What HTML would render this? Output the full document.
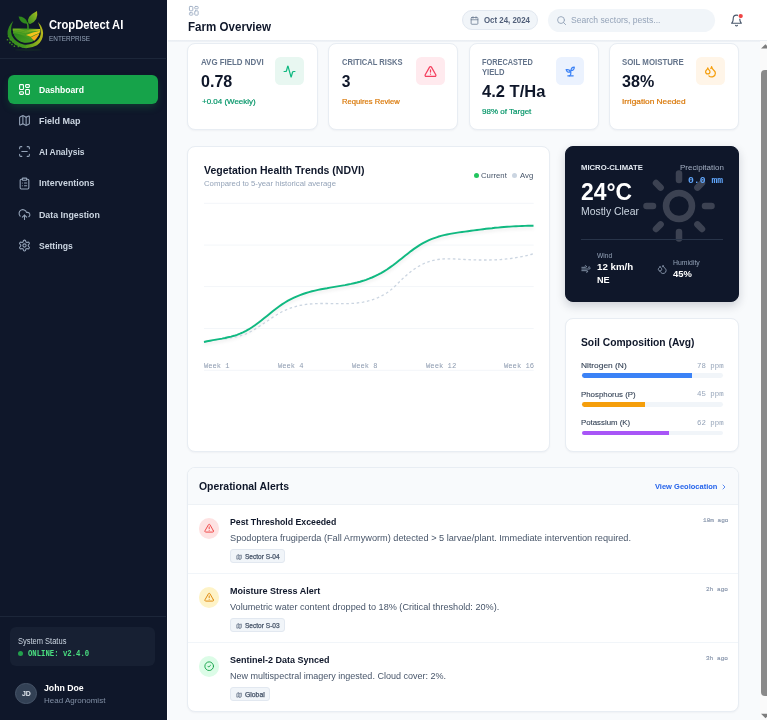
<!DOCTYPE html>
<html lang="en">
<head>
<meta charset="utf-8">
<title>CropDetect AI - Farm Overview</title>
<style>
*{box-sizing:border-box;margin:0;padding:0}
html,body{width:767px;height:720px;overflow:hidden;background:#f8fafc}
body{font-family:"Liberation Sans",sans-serif;color:#0f172a;position:relative;-webkit-font-smoothing:antialiased}
.mono{font-family:"Liberation Mono",monospace}
.abs{position:absolute}
.t{position:absolute;white-space:nowrap;line-height:1;transform-origin:0 50%}
.b{font-weight:700}
/* sidebar */
#side{position:absolute;left:0;top:0;width:166.500px;height:720px;background:#0f172a}
#side .div{position:absolute;left:0;width:165.500px;height:1px;background:#1c2639}
.nav{position:absolute;left:8px;width:150px;height:28.600px;border-radius:6px}
.nav.act{background:#16a34a;box-shadow:0 4px 8px -2px rgba(22,163,74,.3)}
.nav span{transform-origin:0 50%;position:absolute;left:31px;top:9.600px;font-size:9.500px;line-height:1;color:#cbd5e1;font-weight:700;white-space:nowrap}
.nav.act span{color:#fff}
.nav svg{position:absolute;left:10.300px;top:7.800px;width:13px;height:13px;fill:none;stroke:#94a3b8;stroke-width:2;stroke-linecap:round;stroke-linejoin:round}
.nav.act svg{stroke:#fff}
/* main */
#hdr{position:absolute;left:166.500px;top:0;width:600.500px;height:40px;background:#fff}
#hdr:after{content:"";position:absolute;left:1.700px;right:0;top:40px;height:2.200px;background:linear-gradient(#e9edf2,#f0f3f7)}
#strip{position:absolute;left:166.500px;top:0;width:1.800px;height:720px;background:#fff}
.card{position:absolute;background:#fff;border:1px solid #e8edf3;border-radius:8px;box-shadow:0 1px 2px rgba(15,23,42,.04)}
.pill{position:absolute;border-radius:12px;background:#f1f5f9}
svg.i{position:absolute;fill:none;stroke-linecap:round;stroke-linejoin:round}
.lab{font-size:8.400px;color:#64748b;letter-spacing:.1px}
.val{font-size:15.600px;color:#0f172a;letter-spacing:-.2px}
.sub{font-size:7.800px;-webkit-text-stroke:.2px currentColor}
.wk{font-size:8px;color:#8d9bb0}
.sl{font-size:7.800px;color:#334155;-webkit-text-stroke:.1px currentColor}
.sv{font-size:7.200px;color:#94a3b8}
.at{font-size:9.100px;color:#0f172a;letter-spacing:-.2px}
.ad{font-size:9.100px;color:#475569;letter-spacing:-.15px}
.ag{font-size:6.300px;color:#475569;font-weight:400;-webkit-text-stroke:.25px currentColor}
.am{font-size:5.900px;color:#8795ab;-webkit-text-stroke:.15px currentColor}
</style>
</head>
<body>
<!-- SIDEBAR -->
<div id="side">
  <svg class="abs" style="left:0;top:0" width="64" height="60" viewBox="0 0 64 60">
    <defs>
      <linearGradient id="lg1" x1="0" y1="1" x2="1" y2="0"><stop offset="0" stop-color="#378c1f"/><stop offset=".55" stop-color="#6fa821"/><stop offset="1" stop-color="#b4c01f"/></linearGradient>
      <linearGradient id="lg2" x1="0" y1="0" x2="1" y2="0"><stop offset="0" stop-color="#2f861c"/><stop offset=".45" stop-color="#43991e"/><stop offset=".8" stop-color="#86ad1c"/><stop offset="1" stop-color="#bdb91c"/></linearGradient>
      <linearGradient id="lg3" x1="0" y1="0" x2="1" y2="0"><stop offset="0" stop-color="#7fb122"/><stop offset=".5" stop-color="#5da421"/><stop offset="1" stop-color="#c9c61e"/></linearGradient>
      <linearGradient id="lg4" x1="0" y1="0" x2="1" y2="1"><stop offset="0" stop-color="#2a861d"/><stop offset="1" stop-color="#48a021"/></linearGradient>
      <clipPath id="bowl"><path d="M138 335Q350 328 590 345Q596 440 500 530Q420 575 335 568Q240 550 180 470Q142 410 138 335Z"/></clipPath>
    </defs>
    <g transform="translate(4 8) scale(.06112)">
      <ellipse cx="400" cy="685" rx="230" ry="22" fill="#1b3a24" opacity=".35"/>
      <path d="M152 210Q50 320 58 430Q62 490 100 520Q170 610 300 652Q430 672 540 610Q640 540 640 410Q636 310 556 228Q606 330 602 420Q590 520 480 578Q400 610 320 598Q190 570 128 450Q92 340 152 210Z" fill="url(#lg2)"/>
      
      <g clip-path="url(#bowl)">
        <rect x="120" y="320" width="490" height="280" fill="#46991f"/>
        <path d="M135 333Q260 335 345 368Q460 340 592 343L592 372Q450 372 345 412Q250 375 135 378Z" fill="url(#lg3)"/>
        <path d="M140 362Q250 362 340 392" stroke="#3f961f" stroke-width="9" fill="none"/>
        <path d="M135 395Q240 395 345 425L335 445Q240 420 140 420Z" fill="#4a9e21"/>
        <path d="M360 440Q470 395 595 372L595 402Q510 430 438 472Z" fill="#f3c21d"/>
        <path d="M440 482Q515 440 595 408L575 470Q545 520 500 540Z" fill="#f6a61b"/>
        <path d="M148 408Q300 420 482 545Q420 585 330 575Q215 545 148 408Z" fill="url(#lg4)"/>
      </g>
      <path d="M384 250Q398 300 393 350" stroke="#3b941f" stroke-width="24" fill="none" stroke-linecap="round"/>
      <path d="M398 242Q360 140 540 48Q570 200 430 262Q410 262 398 242Z" fill="url(#lg1)"/>
      <path d="M415 235Q455 150 520 90" stroke="#5a9f20" stroke-width="5" fill="none" opacity=".6"/>
      <path d="M378 258Q270 262 238 140Q345 140 385 238Z" fill="#2f871d"/>
      <g fill="#3f8f20"><rect x="45" y="508" width="24" height="24" rx="5"/><rect x="92" y="502" width="30" height="30" rx="6"/><rect x="82" y="553" width="28" height="26" rx="6"/><rect x="132" y="540" width="28" height="26" rx="6"/><rect x="118" y="586" width="24" height="22" rx="5"/><rect x="172" y="570" width="28" height="28" rx="6"/><rect x="158" y="614" width="24" height="24" rx="5"/><rect x="222" y="618" width="28" height="26" rx="6"/><rect x="298" y="630" width="26" height="22" rx="5"/><rect x="335" y="604" width="22" height="20" rx="5"/><rect x="62" y="455" width="18" height="20" rx="4"/></g>
    </g>
  </svg>
  <div class="t b" style="left:49.0px;top:19px;font-size:12.5px;color:#fff;letter-spacing:0.000px;transform:scaleX(0.896)">CropDetect AI</div>
  <div class="t" style="left:49.3px;top:35.6px;font-size:6.5px;color:#94a3b8;letter-spacing:0.000px;transform:scaleX(0.987)">ENTERPRISE</div>
  <div class="div" style="top:58px"></div>
  <div class="nav act" style="top:75px"><svg viewBox="0 0 24 24"><rect x="3" y="3" width="7" height="9" rx="1.5"/><rect x="14" y="3" width="7" height="5" rx="1.5"/><rect x="14" y="12" width="7" height="9" rx="1.5"/><rect x="3" y="16" width="7" height="5" rx="1.5"/></svg><span style="left:30.7px;letter-spacing:0.000px;transform:scaleX(0.905)">Dashboard</span></div>
  <div class="nav" style="top:106.300px"><svg viewBox="0 0 24 24"><path d="M14.1 5.6a2 2 0 0 0 1.8 0l3.7-1.8A1 1 0 0 1 21 4.6v12.8a1 1 0 0 1-.6.9l-4.5 2.3a2 2 0 0 1-1.8 0l-4.2-2.100a2 2 0 0 0-1.8 0l-3.700 1.800A1 1 0 0 1 3 19.400V6.600a1 1 0 0 1 .6-.9l4.500-2.300a2 2 0 0 1 1.800 0z"/><path d="M15 5.800v15"/><path d="M9 3.200v15"/></svg><span style="left:30.8px;letter-spacing:0.000px;transform:scaleX(0.947)">Field Map</span></div>
  <div class="nav" style="top:137.600px"><svg viewBox="0 0 24 24"><path d="M3 7V5a2 2 0 0 1 2-2h2"/><path d="M17 3h2a2 2 0 0 1 2 2v2"/><path d="M21 17v2a2 2 0 0 1-2 2h-2"/><path d="M7 21H5a2 2 0 0 1-2-2v-2"/><path d="M7 12h10"/></svg><span style="left:30.8px;letter-spacing:0.000px;transform:scaleX(0.894)">AI Analysis</span></div>
  <div class="nav" style="top:168.900px"><svg viewBox="0 0 24 24"><rect x="8" y="2" width="8" height="4" rx="1"/><path d="M16 4h2a2 2 0 0 1 2 2v14a2 2 0 0 1-2 2H6a2 2 0 0 1-2-2V6a2 2 0 0 1 2-2h2"/><path d="M12 11h4"/><path d="M12 16h4"/><path d="M8 11h.01"/><path d="M8 16h.01"/></svg><span style="left:30.8px;letter-spacing:0.000px;transform:scaleX(0.927)">Interventions</span></div>
  <div class="nav" style="top:200.200px"><svg viewBox="0 0 24 24"><path d="M12 13v8"/><path d="M4 14.900A7 7 0 1 1 15.700 8h1.800a4.500 4.500 0 0 1 2.500 8.200"/><path d="m8 17 4-4 4 4"/></svg><span style="left:30.8px;letter-spacing:0.000px;transform:scaleX(0.929)">Data Ingestion</span></div>
  <div class="nav" style="top:231.500px"><svg viewBox="0 0 24 24"><path d="M12.220 2h-.44a2 2 0 0 0-2 2v.18a2 2 0 0 1-1 1.730l-.43.250a2 2 0 0 1-2 0l-.150-.080a2 2 0 0 0-2.730.730l-.220.380a2 2 0 0 0 .730 2.730l.150.100a2 2 0 0 1 1 1.720v.510a2 2 0 0 1-1 1.740l-.150.090a2 2 0 0 0-.730 2.730l.220.380a2 2 0 0 0 2.730.730l.150-.080a2 2 0 0 1 2 0l.430.250a2 2 0 0 1 1 1.730V20a2 2 0 0 0 2 2h.44a2 2 0 0 0 2-2v-.18a2 2 0 0 1 1-1.730l.430-.250a2 2 0 0 1 2 0l.150.080a2 2 0 0 0 2.730-.730l.220-.390a2 2 0 0 0-.730-2.730l-.150-.080a2 2 0 0 1-1-1.740v-.5a2 2 0 0 1 1-1.740l.150-.090a2 2 0 0 0 .730-2.730l-.220-.380a2 2 0 0 0-2.730-.730l-.150.080a2 2 0 0 1-2 0l-.430-.250a2 2 0 0 1-1-1.730V4a2 2 0 0 0-2-2z"/><circle cx="12" cy="12" r="3"/></svg><span style="left:30.8px;letter-spacing:0.000px;transform:scaleX(0.904)">Settings</span></div>
  <div class="div" style="top:616px"></div>
  <div class="abs" style="left:10px;top:627px;width:145px;height:39px;border-radius:6px;background:#172033"></div>
  <div class="t" style="left:17.7px;top:636.6px;font-size:8.5px;color:#cbd5e1;letter-spacing:0.000px;transform:scaleX(0.883)">System Status</div>
  <div class="abs" style="left:18.200px;top:650.500px;width:5px;height:5px;border-radius:50%;background:#22a04c"></div>
  <div class="t mono b" style="left:28.0px;top:649.8px;font-size:8.300px;color:#4ade80;letter-spacing:0.000px;transform:scaleX(0.878)">ONLINE: v2.4.0</div>
  <div class="abs" style="left:15.400px;top:683.300px;width:21.200px;height:21.200px;border-radius:50%;background:#334155;border:1px solid #475569"></div>
  <div class="t b" style="left:21.7px;top:690.2px;font-size:7.2px;color:#e2e8f0;letter-spacing:0.000px;transform:scaleX(0.967)">JD</div>
  <div class="t b" style="left:44.0px;top:683.1px;font-size:9.500px;color:#fff;letter-spacing:0.000px;transform:scaleX(0.917)">John Doe</div>
  <div class="t" style="left:44.0px;top:697px;font-size:8px;color:#8290a5;letter-spacing:0.000px;transform:scaleX(1.000)">Head Agronomist</div>
</div>
<!-- HEADER -->
<div id="strip"></div>
<div id="hdr"></div>
<svg class="i" style="left:187.500px;top:5.400px;stroke:#a3b1c6;stroke-width:2" width="11.600" height="11.600" viewBox="0 0 24 24"><rect x="3" y="3" width="7" height="9" rx="1.5"/><rect x="14" y="3" width="7" height="5" rx="1.5"/><rect x="14" y="12" width="7" height="9" rx="1.500"/><rect x="3" y="16" width="7" height="5" rx="1.5"/></svg>
<div class="t b" style="left:187.6px;top:19.500px;font-size:13px;color:#0f172a;letter-spacing:0.000px;transform:scaleX(0.890)">Farm Overview</div>
<div class="pill" style="left:461.500px;top:10px;width:76.500px;height:20px;border:1px solid #e2e8f0;border-radius:10px"></div>
<svg class="i" style="left:470px;top:15.500px;stroke:#64748b;stroke-width:2" width="9" height="9" viewBox="0 0 24 24"><path d="M8 2v4"/><path d="M16 2v4"/><rect x="3" y="4" width="18" height="18" rx="2"/><path d="M3 10h18"/></svg>
<div class="t b" style="left:483.7px;top:16.3px;font-size:8.400px;color:#52607a;letter-spacing:0.000px;transform:scaleX(0.939)">Oct 24, 2024</div>
<div class="pill" style="left:548px;top:8.500px;width:167px;height:23px;border-radius:11.500px"></div>
<svg class="i" style="left:555.500px;top:14.500px;stroke:#94a3b8;stroke-width:2" width="11" height="11" viewBox="0 0 24 24"><circle cx="11" cy="11" r="7.500"/><path d="m21 21-4.300-4.300"/></svg>
<div class="t" style="left:571.2px;top:15.9px;font-size:9.100px;color:#94a3b8;letter-spacing:0.000px;transform:scaleX(0.941)">Search sectors, pests...</div>
<svg class="i" style="left:730px;top:13.500px;stroke:#475569;stroke-width:2" width="13" height="13" viewBox="0 0 24 24"><path d="M6 8a6 6 0 0 1 12 0c0 7 3 9 3 9H3s3-2 3-9"/><path d="M10.300 21a1.940 1.940 0 0 0 3.400 0"/></svg>
<svg class="abs" style="left:736px;top:11px" width="10" height="10" viewBox="736 11 10 10"><circle cx="740.700" cy="16.100" r="2.900" fill="#fff"/><circle cx="740.700" cy="16.100" r="2.150" fill="#ef4444"/></svg>
<!-- CARDS -->
<div class="card" style="left:187px;top:43px;width:131px;height:87px"></div>
<div class="t b lab" style="left:201.1px;top:58.2px;letter-spacing:0.000px;transform:scaleX(0.944)">AVG FIELD NDVI</div>
<div class="t b val" style="left:201.1px;top:73.9px;letter-spacing:0.000px;transform:scaleX(1.031)">0.78</div>
<div class="t sub" style="left:201.5px;top:97.6px;color:#059669;letter-spacing:0.000px;transform:scaleX(1.023)">+0.04 (Weekly)</div>
<div class="abs" style="left:275.4px;top:56.700px;width:28.700px;height:28.700px;border-radius:5.500px;background:#e8f7f1"></div>
<svg class="i" style="left:283.2px;top:64.800px;stroke:#10b981;stroke-width:2.300" width="13" height="13" viewBox="0 0 24 24"><path d="M22 12h-2.480a2 2 0 0 0-1.930 1.460l-2.350 8.360a.250.250 0 0 1-.480 0L9.240 2.180a.250.250 0 0 0-.480 0l-2.350 8.360A2 2 0 0 1 4.490 12H2"/></svg>
<div class="card" style="left:328px;top:43px;width:130px;height:87px"></div>
<div class="t b lab" style="left:341.5px;top:58.2px;letter-spacing:0.000px;transform:scaleX(0.905)">CRITICAL RISKS</div>
<div class="t b val" style="left:341.7px;top:73.9px;letter-spacing:0.000px;transform:scaleX(1.000)">3</div>
<div class="t sub" style="left:341.5px;top:97.6px;color:#d97706;letter-spacing:0.000px;transform:scaleX(0.979)">Requires Review</div>
<div class="abs" style="left:416.2px;top:56.700px;width:28.700px;height:28.700px;border-radius:5.500px;background:#ffeaee"></div>
<svg class="i" style="left:424.0px;top:64.800px;stroke:#f43f5e;stroke-width:2.300" width="13" height="13" viewBox="0 0 24 24"><path d="m21.730 18-8-14a2 2 0 0 0-3.480 0l-8 14A2 2 0 0 0 4 21h16a2 2 0 0 0 1.730-3"/><path d="M12 9v4"/><path d="M12 17h.01"/></svg>
<div class="card" style="left:468.5px;top:43px;width:130px;height:87px"></div>
<div class="t b lab" style="left:481.7px;top:58.0px;letter-spacing:0.000px;transform:scaleX(0.880)">FORECASTED</div>
<div class="t b lab" style="left:481.7px;top:68.2px;letter-spacing:0.000px;transform:scaleX(0.912)">YIELD</div>
<div class="t b val" style="left:481.7px;top:83.5px;letter-spacing:0.000px;transform:scaleX(1.060)">4.2 T/Ha</div>
<div class="t sub" style="left:481.7px;top:108.0px;color:#059669;letter-spacing:0.000px;transform:scaleX(1.028)">98% of Target</div>
<div class="abs" style="left:555.8px;top:56.700px;width:28.700px;height:28.700px;border-radius:5.500px;background:#ebf2fe"></div>
<svg class="i" style="left:563.5999999999999px;top:64.800px;stroke:#3b82f6;stroke-width:2.300" width="13" height="13" viewBox="0 0 24 24"><path d="M7 20h10"/><path d="M10 20c5.500-2.500.8-6.400 3-10"/><path d="M9.500 9.400c1.100.8 1.800 2.200 2.300 3.700-2 .4-3.500.4-4.800-.3-1.200-.6-2.300-1.900-3-4.200 2.800-.5 4.400 0 5.500.8z"/><path d="M14.100 6a7 7 0 0 0-1.100 4c1.900-.1 3.300-.600 4.300-1.400 1-1 1.600-2.300 1.700-4.600-2.700.1-4 1-4.900 2z"/></svg>
<div class="card" style="left:608.5px;top:43px;width:130.5px;height:87px"></div>
<div class="t b lab" style="left:622.0px;top:58.2px;letter-spacing:0.000px;transform:scaleX(0.937)">SOIL MOISTURE</div>
<div class="t b val" style="left:622.0px;top:73.9px;letter-spacing:0.000px;transform:scaleX(1.031)">38%</div>
<div class="t sub" style="left:622.0px;top:97.6px;color:#d97706;letter-spacing:0.000px;transform:scaleX(1.063)">Irrigation Needed</div>
<div class="abs" style="left:696.3px;top:56.700px;width:28.700px;height:28.700px;border-radius:5.500px;background:#fff5e8"></div>
<svg class="i" style="left:704.0999999999999px;top:64.800px;stroke:#f59e0b;stroke-width:2.300" width="13" height="13" viewBox="0 0 24 24"><path d="M7 16.300c2.200 0 4-1.830 4-4.050 0-1.160-.570-2.260-1.710-3.190S7.290 6.750 7 5.300c-.290 1.450-1.140 2.840-2.290 3.760S3 11.100 3 12.250c0 2.220 1.800 4.050 4 4.050z"/><path d="M12.560 6.600A10.970 10.970 0 0 0 14 3.020c.5 2.500 2 4.900 4 6.500s3 3.500 3 5.500a6.980 6.980 0 0 1-11.910 4.970"/></svg>
<div class="card" id="chart" style="left:187px;top:146px;width:363px;height:306px"></div>
<div class="t b" style="left:203.8px;top:163.9px;font-size:11.700px;color:#0f172a;letter-spacing:0.000px;transform:scaleX(0.898)">Vegetation Health Trends (NDVI)</div>
<div class="t" style="left:203.8px;top:180px;font-size:7.800px;color:#94a3b8;letter-spacing:0.000px;transform:scaleX(0.995)">Compared to 5-year historical average</div>
<div class="abs" style="left:473.700px;top:172.800px;width:5.200px;height:5.200px;border-radius:50%;background:#22c55e"></div>
<div class="t" style="left:481.4px;top:171.8px;font-size:7.800px;color:#475569;letter-spacing:0.000px;transform:scaleX(0.992)">Current</div>
<div class="abs" style="left:512px;top:172.800px;width:5.200px;height:5.200px;border-radius:50%;background:#cbd5e1"></div>
<div class="t" style="left:520.3px;top:171.8px;font-size:7.800px;color:#475569;letter-spacing:0.000px;transform:scaleX(0.993)">Avg</div>
<svg class="abs" style="left:0;top:0;pointer-events:none" width="767" height="720" viewBox="0 0 767 720">
  <defs><filter id="bl" x="-5%" y="-20%" width="110%" height="140%"><feGaussianBlur stdDeviation="1.600"/></filter></defs>
  <g stroke="#f3f6f9" stroke-width="1"><path d="M204 203.300H533.700"/><path d="M204 245.100H533.700"/><path d="M204 286.600H533.700"/><path d="M204 328.500H533.700"/><path d="M204 370.300H533.700"/></g>
  <path d="M204.0 342.0L207.0 341.3L210.0 340.7L213.0 340.1L216.0 339.6L219.0 339.1L222.0 338.6L225.0 338.0L228.0 337.3L231.0 336.6L234.0 335.8L237.0 334.8L240.0 333.7L243.0 332.4L246.0 330.9L249.0 329.2L252.0 327.3L255.0 325.2L258.0 323.0L261.0 320.7L264.0 318.3L267.0 315.9L270.0 313.4L273.0 311.0L276.0 308.7L279.0 306.5L282.0 304.4L285.0 302.5L288.0 300.7L291.0 299.1L294.0 297.7L297.0 296.3L300.0 295.1L303.0 294.0L306.0 293.0L309.0 292.1L312.0 291.3L315.0 290.6L318.0 289.9L321.0 289.3L324.0 288.7L327.0 288.2L330.0 287.6L333.0 287.1L336.0 286.6L339.0 286.1L342.0 285.6L345.0 285.1L348.0 284.5L351.0 283.9L354.0 283.2L357.0 282.5L360.0 281.7L363.0 280.8L366.0 279.8L369.0 278.7L372.0 277.5L375.0 276.1L378.0 274.7L381.0 273.1L384.0 271.3L387.0 269.5L390.0 267.4L393.0 265.3L396.0 263.0L399.0 260.6L402.0 258.2L405.0 255.8L408.0 253.5L411.0 251.1L414.0 248.9L417.0 246.9L420.0 244.9L423.0 243.2L426.0 241.6L429.0 240.1L432.0 238.9L435.0 237.8L438.0 236.8L441.0 235.9L444.0 235.1L447.0 234.5L450.0 233.9L453.0 233.4L456.0 232.9L459.0 232.4L462.0 232.0L465.0 231.6L468.0 231.2L471.0 230.8L474.0 230.4L477.0 230.0L480.0 229.6L483.0 229.2L486.0 228.8L489.0 228.5L492.0 228.2L495.0 227.8L498.0 227.6L501.0 227.3L504.0 227.0L507.0 226.8L510.0 226.6L513.0 226.4L516.0 226.2L519.0 226.1L522.0 226.0L525.0 225.9L528.0 225.8L531.0 225.8L533.5 225.8" fill="none" stroke="#0f172a" stroke-opacity=".05" stroke-width="3" transform="translate(0,2.200)" stroke-linejoin="round" filter="url(#bl)"/>
  <path d="M204.0 342.4L207.0 341.6L210.0 340.9L213.0 340.4L216.0 339.9L219.0 339.5L222.0 339.1L225.0 338.8L228.0 338.4L231.0 337.9L234.0 337.4L237.0 336.7L240.0 335.9L243.0 335.0L246.0 333.8L249.0 332.5L252.0 330.9L255.0 329.1L258.0 327.2L261.0 325.3L264.0 323.2L267.0 321.2L270.0 319.1L273.0 317.1L276.0 315.2L279.0 313.4L282.0 311.7L285.0 310.3L288.0 309.0L291.0 307.9L294.0 306.9L297.0 306.1L300.0 305.4L303.0 304.9L306.0 304.4L309.0 304.1L312.0 303.8L315.0 303.7L318.0 303.6L321.0 303.5L324.0 303.5L327.0 303.5L330.0 303.6L333.0 303.6L336.0 303.7L339.0 303.7L342.0 303.7L345.0 303.7L348.0 303.6L351.0 303.5L354.0 303.3L357.0 303.0L360.0 302.6L363.0 302.1L366.0 301.5L369.0 300.7L372.0 299.8L375.0 298.8L378.0 297.6L381.0 296.2L384.0 294.6L387.0 292.8L390.0 290.6L393.0 288.0L396.0 285.2L399.0 282.3L402.0 279.3L405.0 276.5L408.0 273.9L411.0 271.5L414.0 269.3L417.0 267.3L420.0 265.6L423.0 264.0L426.0 262.7L429.0 261.6L432.0 260.7L435.0 260.0L438.0 259.5L441.0 259.1L444.0 258.9L447.0 258.8L450.0 258.8L453.0 258.9L456.0 259.0L459.0 259.2L462.0 259.4L465.0 259.5L468.0 259.7L471.0 259.8L474.0 259.9L477.0 260.0L480.0 260.0L483.0 260.0L486.0 260.0L489.0 260.0L492.0 259.9L495.0 259.8L498.0 259.7L501.0 259.5L504.0 259.2L507.0 258.9L510.0 258.6L513.0 258.2L516.0 257.7L519.0 257.2L522.0 256.6L525.0 256.0L528.0 255.3L531.0 254.5L533.5 253.8" fill="none" stroke="#cbd5e1" stroke-width="1.300" stroke-dasharray="2.600 2.600" stroke-linejoin="round"/>
  <path d="M204.0 342.0L207.0 341.3L210.0 340.7L213.0 340.1L216.0 339.6L219.0 339.1L222.0 338.6L225.0 338.0L228.0 337.3L231.0 336.6L234.0 335.8L237.0 334.8L240.0 333.7L243.0 332.4L246.0 330.9L249.0 329.2L252.0 327.3L255.0 325.2L258.0 323.0L261.0 320.7L264.0 318.3L267.0 315.9L270.0 313.4L273.0 311.0L276.0 308.7L279.0 306.5L282.0 304.4L285.0 302.5L288.0 300.7L291.0 299.1L294.0 297.7L297.0 296.3L300.0 295.1L303.0 294.0L306.0 293.0L309.0 292.1L312.0 291.3L315.0 290.6L318.0 289.9L321.0 289.3L324.0 288.7L327.0 288.2L330.0 287.6L333.0 287.1L336.0 286.6L339.0 286.1L342.0 285.6L345.0 285.1L348.0 284.5L351.0 283.9L354.0 283.2L357.0 282.5L360.0 281.7L363.0 280.8L366.0 279.8L369.0 278.7L372.0 277.5L375.0 276.1L378.0 274.7L381.0 273.1L384.0 271.3L387.0 269.5L390.0 267.4L393.0 265.3L396.0 263.0L399.0 260.6L402.0 258.2L405.0 255.8L408.0 253.5L411.0 251.1L414.0 248.9L417.0 246.9L420.0 244.9L423.0 243.2L426.0 241.6L429.0 240.1L432.0 238.9L435.0 237.8L438.0 236.8L441.0 235.9L444.0 235.1L447.0 234.5L450.0 233.9L453.0 233.4L456.0 232.9L459.0 232.4L462.0 232.0L465.0 231.6L468.0 231.2L471.0 230.8L474.0 230.4L477.0 230.0L480.0 229.6L483.0 229.2L486.0 228.8L489.0 228.5L492.0 228.2L495.0 227.8L498.0 227.6L501.0 227.3L504.0 227.0L507.0 226.8L510.0 226.6L513.0 226.4L516.0 226.2L519.0 226.1L522.0 226.0L525.0 225.9L528.0 225.8L531.0 225.8L533.5 225.8" fill="none" stroke="#10b981" stroke-width="1.950" stroke-linejoin="round"/>
</svg>
<div class="t mono wk" style="left:203.7px;top:362.2px;letter-spacing:0.000px;transform:scaleX(0.885)">Week 1</div>
<div class="t mono wk" style="left:277.6px;top:362.2px;letter-spacing:0.000px;transform:scaleX(0.885)">Week 4</div>
<div class="t mono wk" style="left:351.9px;top:362.2px;letter-spacing:0.000px;transform:scaleX(0.885)">Week 8</div>
<div class="t mono wk" style="left:425.5px;top:362.2px;letter-spacing:0.000px;transform:scaleX(0.899)">Week 12</div>
<div class="t mono wk" style="left:503.9px;top:362.2px;letter-spacing:0.000px;transform:scaleX(0.896)">Week 16</div>
<div class="card" id="wx" style="left:565.400px;top:146px;width:173.300px;height:156px;background:#0f172a;border-color:#0f172a;box-shadow:0 4px 10px rgba(15,23,42,.18)"></div>
<svg class="i" style="left:640px;top:166.600px;stroke:#fff;stroke-opacity:.19;stroke-width:2" width="78" height="78" viewBox="0 0 24 24"><circle cx="12" cy="12" r="4"/><path d="M12 2v2"/><path d="M12 20v2"/><path d="m4.930 4.930 1.410 1.410"/><path d="m17.660 17.660 1.410 1.410"/><path d="M2 12h2"/><path d="M20 12h2"/><path d="m6.340 17.660-1.410 1.410"/><path d="m19.070 4.930-1.410 1.410"/></svg>
<div class="t b" style="left:580.7px;top:163.5px;font-size:7.800px;color:#e2e8f0;letter-spacing:0.000px;transform:scaleX(0.988)">MICRO-CLIMATE</div>
<div class="t" style="left:679.8px;top:163.5px;font-size:7.800px;color:#a3afc2;letter-spacing:0.000px;transform:scaleX(1.021)">Precipitation</div>
<div class="t mono b" style="left:688.4px;top:175.8px;font-size:9.600px;color:#60a5fa;letter-spacing:0.000px;transform:scaleX(1.019)">0.0 mm</div>
<div class="t b" style="left:580.7px;top:180.8px;font-size:23.400px;color:#fff;letter-spacing:0.000px;transform:scaleX(0.978)">24°C</div>
<div class="t" style="left:580.7px;top:207.0px;font-size:10.400px;color:#cbd5e1;letter-spacing:0.000px;transform:scaleX(1.003)">Mostly Clear</div>
<div class="abs" style="left:581px;top:239.400px;width:142px;height:1px;background:#283449"></div>
<svg class="i" style="left:581.200px;top:263.600px;stroke:#94a3b8;stroke-width:2" width="10" height="10" viewBox="0 0 24 24"><path d="M17.700 7.700a2.500 2.500 0 1 1 1.800 4.300H2"/><path d="M9.600 4.600A2 2 0 1 1 11 8H2"/><path d="M12.600 19.400A2 2 0 1 0 14 16H2"/></svg>
<div class="t" style="left:596.9px;top:252.500px;font-size:6.500px;color:#94a3b8;letter-spacing:0.000px;transform:scaleX(1.026)">Wind</div>
<div class="t b" style="left:597.0px;top:262.7px;font-size:9.100px;color:#fff;letter-spacing:0.000px;transform:scaleX(1.069)">12 km/h</div>
<div class="t b" style="left:597.0px;top:275.7px;font-size:9.100px;color:#fff;letter-spacing:0.000px;transform:scaleX(1.005)">NE</div>
<svg class="i" style="left:657.300px;top:264.200px;stroke:#94a3b8;stroke-width:2" width="10.400" height="10.400" viewBox="0 0 24 24"><path d="M7 16.300c2.200 0 4-1.830 4-4.050 0-1.160-.570-2.260-1.710-3.190S7.290 6.750 7 5.300c-.290 1.450-1.140 2.840-2.290 3.760S3 11.100 3 12.250c0 2.220 1.800 4.050 4 4.050z"/><path d="M12.560 6.600A10.970 10.970 0 0 0 14 3.020c.5 2.500 2 4.900 4 6.500s3 3.500 3 5.500a6.980 6.980 0 0 1-11.910 4.970"/></svg>
<div class="t" style="left:672.7px;top:259.5px;font-size:6.500px;color:#94a3b8;letter-spacing:0.000px;transform:scaleX(1.059)">Humidity</div>
<div class="t b" style="left:672.7px;top:269.8px;font-size:9.100px;color:#fff;letter-spacing:0.000px;transform:scaleX(1.038)">45%</div>
<div class="card" id="soil" style="left:565.400px;top:318px;width:173.300px;height:133.500px"></div>
<div class="t b" style="left:581.3px;top:338.0px;font-size:10.400px;color:#0f172a;letter-spacing:0.000px;transform:scaleX(0.991)">Soil Composition (Avg)</div>
<div class="t sl" style="left:581.3px;top:361.9px;letter-spacing:0.000px;transform:scaleX(1.076)">Nitrogen (N)</div>
<div class="t mono sv" style="left:696.5px;top:362.8px;letter-spacing:0.000px;transform:scaleX(1.027)">78 ppm</div>
<div class="abs" style="left:581.600px;top:373.4px;width:141.200px;height:4.800px;border-radius:2.400px;background:#f1f5f9"></div>
<div class="abs" style="left:581.600px;top:373.4px;width:110.1px;height:4.800px;border-radius:2.400px 0 0 2.400px;background:#3b82f6"></div>
<div class="t sl" style="left:581.3px;top:390.5px;letter-spacing:0.000px;transform:scaleX(1.008)">Phosphorus (P)</div>
<div class="t mono sv" style="left:696.5px;top:391.4px;letter-spacing:0.000px;transform:scaleX(1.027)">45 ppm</div>
<div class="abs" style="left:581.600px;top:402.0px;width:141.200px;height:4.800px;border-radius:2.400px;background:#f1f5f9"></div>
<div class="abs" style="left:581.600px;top:402.0px;width:63.5px;height:4.800px;border-radius:2.400px 0 0 2.400px;background:#f59e0b"></div>
<div class="t sl" style="left:581.3px;top:419.1px;letter-spacing:0.000px;transform:scaleX(1.005)">Potassium (K)</div>
<div class="t mono sv" style="left:696.5px;top:420.0px;letter-spacing:0.000px;transform:scaleX(1.027)">62 ppm</div>
<div class="abs" style="left:581.600px;top:430.59999999999997px;width:141.200px;height:4.800px;border-radius:2.400px;background:#f1f5f9"></div>
<div class="abs" style="left:581.600px;top:430.59999999999997px;width:87.5px;height:4.800px;border-radius:2.400px 0 0 2.400px;background:#a855f7"></div>
<div class="card" id="alerts" style="left:187px;top:467px;width:552px;height:245px;overflow:hidden"><div style="height:37px;background:#f8fafc;border-bottom:1px solid #eef2f6"></div></div>
<div class="t b" style="left:198.5px;top:481.8px;font-size:10.400px;color:#0f172a;letter-spacing:0.000px;transform:scaleX(1.004)">Operational Alerts</div>
<div class="t b" style="left:654.8px;top:482.800px;font-size:7.800px;color:#2563eb;letter-spacing:0.000px;transform:scaleX(0.962)">View Geolocation</div>
<svg class="i" style="left:720px;top:482.800px;stroke:#2563eb;stroke-width:2.200" width="8" height="8" viewBox="0 0 24 24"><path d="m9 18 6-6-6-6"/></svg>
<div class="abs" style="left:188px;top:573px;width:550px;height:1px;background:#f1f5f9"></div>
<div class="abs" style="left:188px;top:642.200px;width:550px;height:1px;background:#f1f5f9"></div>
<div class="abs" style="left:198.500px;top:518px;width:20.800px;height:20.800px;border-radius:50%;background:#fee2e2"></div>
<svg class="i" style="left:203.700px;top:523px;stroke:#ef4444;stroke-width:2.200" width="10.400" height="10.400" viewBox="0 0 24 24"><path d="m21.730 18-8-14a2 2 0 0 0-3.480 0l-8 14A2 2 0 0 0 4 21h16a2 2 0 0 0 1.730-3"/><path d="M12 9v4"/><path d="M12 17h.01"/></svg>
<div class="t b at" style="left:229.7px;top:517.5px;letter-spacing:0.000px;transform:scaleX(0.960)">Pest Threshold Exceeded</div>
<div class="t ad" style="left:229.7px;top:533.9px;letter-spacing:0.000px;transform:scaleX(1.010)">Spodoptera frugiperda (Fall Armyworm) detected &gt; 5 larvae/plant. Immediate intervention required.</div>
<div class="abs" style="left:230px;top:549.4px;width:54.7px;height:13.400px;border-radius:3px;background:#f1f5f9;border:1px solid #e2e8f0"></div>
<svg class="i" style="left:236.200px;top:553.5px;stroke:#56647b;stroke-width:2.500" width="6.200" height="6.200" viewBox="0 0 24 24"><path d="M14.100 5.600a2 2 0 0 0 1.800 0l3.700-1.800A1 1 0 0 1 21 4.600v12.800a1 1 0 0 1-.6.900l-4.500 2.300a2 2 0 0 1-1.800 0l-4.200-2.100a2 2 0 0 0-1.800 0l-3.700 1.800A1 1 0 0 1 3 19.400V6.600a1 1 0 0 1 .6-.9l4.500-2.300a2 2 0 0 1 1.800 0z"/><path d="M15 5.800v15"/><path d="M9 3.200v15"/></svg>
<div class="t b ag" style="left:244.6px;top:553.5px;letter-spacing:0.000px;transform:scaleX(1.041)">Sector S-04</div>
<div class="t mono am" style="left:702.7px;top:517.6px;letter-spacing:0.000px;transform:scaleX(1.026)">10m ago</div>
<div class="abs" style="left:198.500px;top:587.100px;width:20.800px;height:20.800px;border-radius:50%;background:#fef3c7"></div>
<svg class="i" style="left:203.700px;top:592.100px;stroke:#de8607;stroke-width:2.200" width="10.400" height="10.400" viewBox="0 0 24 24"><path d="m21.730 18-8-14a2 2 0 0 0-3.480 0l-8 14A2 2 0 0 0 4 21h16a2 2 0 0 0 1.730-3"/><path d="M12 9v4"/><path d="M12 17h.01"/></svg>
<div class="t b at" style="left:229.7px;top:587.1px;letter-spacing:0.000px;transform:scaleX(0.990)">Moisture Stress Alert</div>
<div class="t ad" style="left:229.7px;top:603.1px;letter-spacing:0.000px;transform:scaleX(1.003)">Volumetric water content dropped to 18% (Critical threshold: 20%).</div>
<div class="abs" style="left:230px;top:618.400px;width:54.700px;height:13.400px;border-radius:3px;background:#f1f5f9;border:1px solid #e2e8f0"></div>
<svg class="i" style="left:236.200px;top:622.6999999999999px;stroke:#56647b;stroke-width:2.500" width="6.200" height="6.200" viewBox="0 0 24 24"><path d="M14.100 5.600a2 2 0 0 0 1.800 0l3.700-1.800A1 1 0 0 1 21 4.600v12.800a1 1 0 0 1-.6.900l-4.500 2.300a2 2 0 0 1-1.800 0l-4.200-2.100a2 2 0 0 0-1.800 0l-3.700 1.800A1 1 0 0 1 3 19.400V6.600a1 1 0 0 1 .6-.9l4.500-2.300a2 2 0 0 1 1.800 0z"/><path d="M15 5.800v15"/><path d="M9 3.200v15"/></svg>
<div class="t b ag" style="left:244.6px;top:622.6999999999999px;letter-spacing:0.000px;transform:scaleX(1.041)">Sector S-03</div>
<div class="t mono am" style="left:706.1px;top:586.8px;letter-spacing:0.000px;transform:scaleX(1.037)">2h ago</div>
<div class="abs" style="left:198.500px;top:656.100px;width:20.800px;height:20.800px;border-radius:50%;background:#dcfce7"></div>
<svg class="i" style="left:203.700px;top:661.100px;stroke:#16a34a;stroke-width:2.200" width="10.400" height="10.400" viewBox="0 0 24 24"><circle cx="12" cy="12" r="10"/><path d="m9 12 2 2 4-4"/></svg>
<div class="t b at" style="left:229.7px;top:655.6999999999999px;letter-spacing:0.000px;transform:scaleX(0.990)">Sentinel-2 Data Synced</div>
<div class="t ad" style="left:229.7px;top:671.9px;letter-spacing:0.000px;transform:scaleX(0.992)">New multispectral imagery ingested. Cloud cover: 2%.</div>
<div class="abs" style="left:230px;top:687.300px;width:39.900px;height:13.400px;border-radius:3px;background:#f1f5f9;border:1px solid #e2e8f0"></div>
<svg class="i" style="left:236.200px;top:691.6999999999999px;stroke:#56647b;stroke-width:2.500" width="6.200" height="6.200" viewBox="0 0 24 24"><path d="M14.100 5.600a2 2 0 0 0 1.800 0l3.700-1.800A1 1 0 0 1 21 4.600v12.800a1 1 0 0 1-.6.900l-4.500 2.300a2 2 0 0 1-1.800 0l-4.200-2.100a2 2 0 0 0-1.800 0l-3.700 1.800A1 1 0 0 1 3 19.400V6.600a1 1 0 0 1 .6-.9l4.500-2.300a2 2 0 0 1 1.800 0z"/><path d="M15 5.800v15"/><path d="M9 3.200v15"/></svg>
<div class="t b ag" style="left:244.6px;top:691.6999999999999px;letter-spacing:0.000px;transform:scaleX(1.082)">Global</div>
<div class="t mono am" style="left:706.1px;top:655.8px;letter-spacing:0.000px;transform:scaleX(1.037)">3h ago</div>
<!-- SCROLLBAR -->
<div class="abs" style="left:760px;top:41px;width:7px;height:679px;background:#fafafa"></div>
<div class="abs" style="left:761.400px;top:69.500px;width:8px;height:626.700px;background:#8a8a8a;border-radius:4px 0 0 4px"></div>
<svg class="abs" style="left:757px;top:41px" width="10" height="679" viewBox="757 41 10 679"><path d="M761 48.600L765.500 44.200L770 48.600Z" fill="#7d7d7d"/><path d="M761 713.700L765.500 718.200L770 713.700Z" fill="#7d7d7d"/></svg>
</body>
</html>
